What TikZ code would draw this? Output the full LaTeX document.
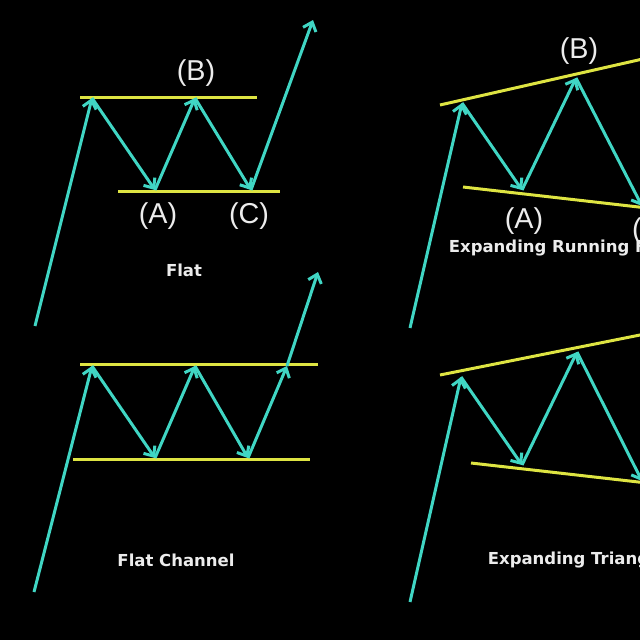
\documentclass[tikz,border=0pt]{standalone}
\usepackage{fontspec}
\setmainfont{Liberation Sans}
\newfontfamily\capfont{DejaVu Sans}
\usetikzlibrary{arrows.meta}
\definecolor{wavecyan}{RGB}{64,214,196}
\definecolor{boundyellow}{RGB}{222,228,66}
\definecolor{labelgrey}{RGB}{236,236,236}
\tikzset{
x=0.4pt, y=-0.4pt, % one unit is one pixel of the chart, y runs down
wave/.style={draw=wavecyan, line width=1.2pt, -{Straight Barb[length=3.2pt,width=5.5pt]}}, % the price swings
bound/.style={draw=boundyellow, line width=1.2pt}, % the trend lines
wavelabel/.style={text=labelgrey, font=\fontsize{11.5}{12}\selectfont}, % (A), (B), (C)
caption/.style={text=labelgrey, font=\capfont\bfseries\fontsize{6.6}{7}\selectfont}, % pattern names
}

\begin{document}
\begin{tikzpicture}
        \fill[black] (0,0) rectangle (640,640);
        \useasboundingbox (0,0) rectangle (640,640);
        \clip (0,0) rectangle (640,640);

        % Flat
        \coordinate (f0) at (35,326);
        \coordinate (fx) at (92,98);
        \coordinate (fa) at (155,190);
        \coordinate (fb) at (195,98);
        \coordinate (fc) at (251,190);
        \coordinate (fe) at (313,20);
        \coordinate (ftl) at (80,97);
        \coordinate (ftr) at (257,97);
        \coordinate (fbl) at (118,191);
        \coordinate (fbr) at (280,191);
        \draw[bound] (ftl) -- (ftr);
        \draw[bound] (fbl) -- (fbr);
        \draw[wave] (f0) -- (fx);
        \draw[wave] (fx) -- (fa);
        \draw[wave] (fa) -- (fb);
        \draw[wave] (fb) -- (fc);
        \draw[wave] (fc) -- (fe);
        \node[wavelabel] (fB) at (196,73) {(B)};
        \node[wavelabel] (fA) at (158,216) {(A)};
        \node[wavelabel] (fC) at (249,216) {(C)};
        \node[caption] (fname) at (184,270) {Flat};

        % Flat Channel
        \coordinate (c0) at (34,592);
        \coordinate (cx) at (92,366);
        \coordinate (ca) at (155,458);
        \coordinate (cb) at (195,366);
        \coordinate (cc) at (248,458);
        \coordinate (cd) at (287,366);
        \coordinate (ce) at (318,272);
        \coordinate (ctl) at (80,364);
        \coordinate (ctr) at (318,364);
        \coordinate (cbl) at (73,459);
        \coordinate (cbr) at (310,459);
        \draw[bound] (ctl) -- (ctr);
        \draw[bound] (cbl) -- (cbr);
        \draw[wave] (c0) -- (cx);
        \draw[wave] (cx) -- (ca);
        \draw[wave] (ca) -- (cb);
        \draw[wave] (cb) -- (cc);
        \draw[wave] (cc) -- (cd);
        \draw[wave] (cd) -- (ce);
        \node[caption] (cname) at (176,560) {Flat Channel};

        % Expanding Running Flat
        \coordinate (r0) at (410,328);
        \coordinate (rx) at (462,103);
        \coordinate (ra) at (522,190);
        \coordinate (rb) at (576,78);
        \coordinate (rc) at (642,206);
        \coordinate (rtl) at (440,105);
        \coordinate (rtr) at (700,46);
        \coordinate (rbl) at (463,187);
        \coordinate (rbr) at (700,214);
        \draw[bound] (rtl) -- (rtr);
        \draw[bound] (rbl) -- (rbr);
        \draw[wave] (r0) -- (rx);
        \draw[wave] (rx) -- (ra);
        \draw[wave] (ra) -- (rb);
        \draw[wave] (rb) -- (rc);
        \node[wavelabel] (rB) at (579,51) {(B)};
        \node[wavelabel] (rA) at (524,221) {(A)};
        \node[wavelabel] (rC) at (652,231) {(C)};
        \node[caption, anchor=west] (rname) at (440,248) {Expanding Running Flat};

        % Expanding Triangle
        \coordinate (t0) at (410,602);
        \coordinate (tx) at (461,377);
        \coordinate (ta) at (522,465);
        \coordinate (tb) at (577,352);
        \coordinate (tc) at (642,481);
        \coordinate (ttl) at (440,375);
        \coordinate (ttr) at (700,323);
        \coordinate (tbl) at (471,463);
        \coordinate (tbr) at (700,489);
        \draw[bound] (ttl) -- (ttr);
        \draw[bound] (tbl) -- (tbr);
        \draw[wave] (t0) -- (tx);
        \draw[wave] (tx) -- (ta);
        \draw[wave] (ta) -- (tb);
        \draw[wave] (tb) -- (tc);
        \node[caption, anchor=west] (tname) at (479,560) {Expanding Triangle};
\end{tikzpicture}
\end{document}
